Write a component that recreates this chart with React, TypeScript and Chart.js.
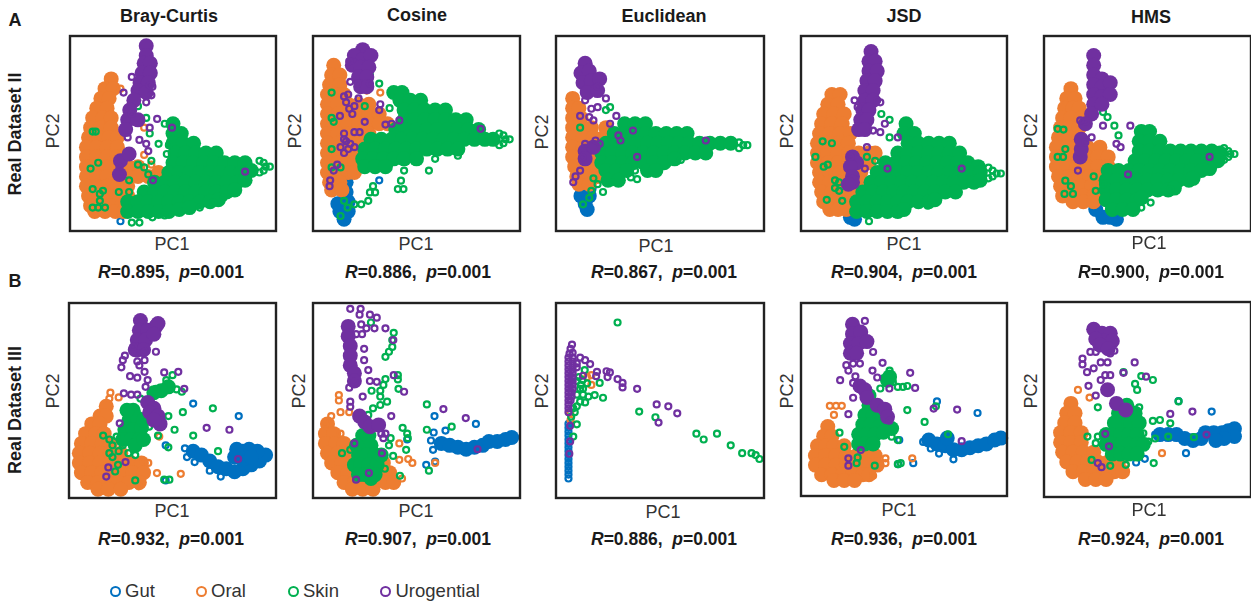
import React, { useEffect, useRef } from "react";
import { Chart, registerables } from "chart.js";

Chart.register(...registerables);

// PC1,PC2 score pairs (flat x,y lists). "dense" = heavily overplotted zones, "open" = individually visible samples.
const A1_GUT_DENSE: number[] = [];
const A1_GUT_OPEN = [24.5,5];
const A1_ORAL_DENSE = [20,78,17,73,21,73,15,68,19,68,13,63,18,63,11,58,16,58,20,58,10,53,15,53,20,53,9,48,14,48,19,48,23,48,8,43,13,43,18,43,23,43,8,38,13,38,18,38,23,38,8,33,13,33,18,33,23,33,28,33,33,33,8,28,13,28,18,28,23,28,28,28,33,28,38,28,43,30,8,23,13,23,18,23,23,23,28,23,9,18,14,18,19,18,24,18,28,18,10,13,15,13,20,13,25,13,12,10,17,10,22,10,26,10];
const A1_ORAL_OPEN = [24.5,73,36,53,36,39,39.5,34];
const A1_SKIN_DENSE = [50,55,50,50,54,50,50,45,55,45,60,45,51,40,56,40,61,40,66,40,71,40,50,35,55,35,60,35,65,35,70,35,75,35,80,35,85,35,48,30,53,30,58,30,63,30,68,30,73,30,78,30,83,30,88,31,41,25,46,25,51,25,56,25,61,25,66,25,71,25,76,25,81,25,85,26,36,20,41,20,46,20,51,20,56,20,61,20,66,20,71,20,76,20,80,21,28,15,33,15,38,15,43,15,48,15,53,15,58,15,63,15,68,15,72,16,28,10,33,10,38,10,43,10,48,10,53,11,58,12];
const A1_SKIN_OPEN = [11,51,12.5,51,10,32,13.7,35,11,21.5,16,20.6,14.5,19,14.5,15.5,11,12,13.7,12,17,12,23.7,20,28.7,20,33,64,37,58,46,55,38.7,50,43,44.7,48,44,47,39.5,39.5,36,33,34,36,32.6,28.7,26,38,29,30,4.3,33.7,4.3,40,7,46,8,63,12,69.5,14.6,74.5,17,97,33,95,33,94,35,94,31,92,36,92,30];
const A1_URO_DENSE = [37,95,37,90,36,86,39,86,35,81,39,81,34,76,38,76,33,72,37,71,31,67,29,62,28,57,33,57,27,52,24.5,36,28.7,39.5,24,29];
const A1_URO_OPEN = [40,74,30,60,37,44.7,33.7,46.7,38.7,53,42.3,57.5,49.5,53,85,30.4,40.3,26,37,66,26,71,30,79,39.5,69.6,38.7,74.7,28,48,24,33,38,41];

const A2_GUT_DENSE = [16,25,16,20,15,15,12,14,17,15,13,10,17,10,15,6];
const A2_GUT_OPEN = [32,26];
const A2_ORAL_DENSE = [10,85,9,80,13,80,8,75,13,75,7,70,12,70,15,70,7,65,12,65,17,65,22,65,27,65,7,60,12,60,17,60,22,60,27,60,32,60,7,55,12,55,17,55,22,55,27,55,32,55,36,55,7,50,12,50,17,50,22,50,27,50,7,45,12,45,17,45,22,45,7,40,12,40,17,40,22,40,27,40,7,35,12,35,17,35,20,35,7,30,12,30,17,30,20,30,8,25,13,25,9,21,14,21];
const A2_ORAL_OPEN = [26,72,32.5,71];
const A2_SKIN_DENSE = [39,71,43,71,42,67,47,67,52,67,44,62,49,62,54,62,59,62,64,62,44,57,49,57,54,57,59,57,64,57,69,57,74,57,40,52,45,52,50,52,55,52,60,52,65,52,70,52,75,52,80,52,28,47,33,47,38,47,43,47,48,47,53,47,58,47,63,47,68,47,73,47,78,47,83,47,87,47,25,42,30,42,35,42,40,42,45,42,50,42,55,42,60,42,65,42,70,42,24,37,29,37,34,37,39,37,44,37,50,37,25,33,30,33,35,33];
const A2_SKIN_OPEN = [9,71,9,58,10,56,9,42,9,32.6,13.3,32.6,27.5,80,32,75.6,25,64,37,63,44,31,56,31,59,37,70,38.6,42.5,25.8,41,21.5,43.7,21.5,29,23,27.5,19.8,30,19.8,26.7,15.5,23.3,13.7,20,13.7,16.7,12,13.3,7.7,15,15.5,95,47,93,47,92,49,92,45,90,50,90,44];
const A2_URO_DENSE = [24,93,20,90,24,88,28,90,19,85,23,84,27,84,22,79,26,79,23,74,26,74];
const A2_URO_OPEN = [15,69,17,70,22,68,17.5,62.7,20,64,32.5,65,32,62,13,59,25,56,35,54.6,38,55,41.7,56.7,20,50.7,15,50,22.5,50.7,16,46,13.3,43,18,44.7,15,40,20,43,11.7,34,10,31,8.3,26,8,23,81,52.4,17.5,87,18,76.5,21.7,75.6,27.5,75.6,16,66,19,60,15,47,17,42];

const A3_GUT_DENSE = [16,22,12,18,16,18,14,14,15,11];
const A3_GUT_OPEN = [30,29.5];
const A3_ORAL_DENSE = [8,68,8,63,11,63,8,58,12,58,8,53,12,53,17,53,24,53,8,48,13,48,18,48,23,48,28,48,8,43,13,43,18,43,23,43,28,43,33,43,8,38,13,38,18,38,23,38,9,33,14,33,19,33,24,33,10,28,15,28,20,28,11,24,16,24];
const A3_ORAL_OPEN: number[] = [];
const A3_SKIN_DENSE = [33,55,38,55,43,55,28,50,33,50,38,50,43,50,48,50,53,50,58,50,63,50,24,45,29,45,34,45,39,45,44,45,49,45,54,45,59,45,64,45,69,45,74,45,79,45,84,45,22,40,27,40,32,40,37,40,42,40,47,40,52,40,57,40,62,40,67,40,72,40,22,35,27,35,32,35,37,35,42,35,47,35,52,35,57,37,24,31,29,31,34,31,44,31,48,31,25,26,30,26];
const A3_SKIN_OPEN = [26,63.5,24,62,11.6,53,36,27.5,39,26.6,38,31,27,25,22.6,20,17,20.6,16,17,13,13.7,60,36.4,20,24,18,27,92,44,90,44,88,45.5,88,42.5];
const A3_URO_DENSE = [14,86,12,81,16,82,13,76,17,77,21,78,15,71,20,72,14,41,18,43,14,37];
const A3_URO_OPEN = [20,74,24,68,20,63.5,17,62.7,14,67,11.6,59,16,58.4,18,56.7,29,59,26,55,37,51.5,30,49,31,46.4,19,46.4,21,44.7,14,44.7,12.7,37.8,39,38,72,46.4,11.6,31,9.4,28,8.3,25];

const A4_GUT_DENSE = [24,7,26,6];
const A4_GUT_OPEN: number[] = [];
const A4_ORAL_DENSE = [15,70,19,70,13,65,18,65,11,60,16,60,21,60,10,55,15,55,20,55,9,50,14,50,19,50,24,50,8,45,13,45,18,45,23,45,8,40,13,40,18,40,23,40,28,40,33,40,36,40,8,35,13,35,18,35,23,35,28,35,33,35,9,30,14,30,19,30,24,30,29,30,9,25,14,25,19,25,24,25,29,25,10,20,15,20,20,20,25,20,30,20,11,15,16,15,21,15,26,15,14,11,18,11,22,11];
const A4_ORAL_OPEN: number[] = [];
const A4_SKIN_DENSE = [51,55,50,50,55,50,52,45,57,45,62,45,67,45,72,45,47,40,52,40,57,40,62,40,67,40,72,40,77,40,41,35,46,35,51,35,56,35,61,35,66,35,71,35,76,35,81,35,86,33,37,30,42,30,47,30,52,30,57,30,62,30,67,30,72,30,77,30,82,30,87,30,34,25,39,25,44,25,49,25,54,25,59,25,64,25,69,25,74,25,79,25,84,25,87,26,30,20,35,20,40,20,45,20,50,20,55,20,60,20,65,20,70,20,75,20,27,15,32,15,37,15,42,15,47,15,52,15,57,15,62,15,65,16,27,10,32,10,37,10,42,10,47,10,50,11];
const A4_SKIN_OPEN = [10.5,46,15,45,7,38,13,34,11,33,16.5,26,18.5,25,16.5,22,18.5,20.6,12.5,16,20,15.5,39,60,43,57,43,48,32,38,36,36,61.5,13,46,8.6,33,5,97,29.5,95,29.5,93,31,93,28,91,32.5,91,27];
const A4_URO_DENSE = [34,92,33,87,36,87,33,82,37,82,32,77,36,77,31,72,35,72,31,67,35,67,30,62,33,62,29,57,32,57,28,52,31,52,25,38,27,35,24,33,25,28,25,25,23,24];
const A4_URO_OPEN = [26,67,27.5,63.6,37,67,38.5,66,35,51.5,40.7,55,38.5,50.7,47,48,32,43,24,38,31,32,42,32,78,32];

const A5_GUT_DENSE = [28.5,7,35,6,25,11,32,7];
const A5_GUT_OPEN: number[] = [];
const A5_ORAL_DENSE = [13,73,11,68,15,68,10,63,14,63,17,63,9,58,13,58,18,58,8,53,12,53,17,53,7,48,12,48,17,48,6,43,11,43,16,43,21,43,27,43,6,38,11,38,16,38,21,38,26,38,31,38,6,33,11,33,16,33,21,33,26,33,31,33,7,28,12,28,17,28,22,28,27,28,8,23,13,23,18,23,23,23,27,23,9,18,14,18,19,18,24,18,28,18,14,15,19,15,24,15];
const A5_ORAL_OPEN = [25,20.6];
const A5_SKIN_DENSE = [47,51,51,51,46,46,51,46,56,46,46,41,51,41,56,41,61,41,66,41,71,41,76,41,81,41,85,40,44,36,49,36,54,36,59,36,64,36,69,36,74,36,79,36,84,36,31,31,36,31,41,31,46,31,51,31,56,31,61,31,66,31,71,31,76,31,80,32,30,26,35,26,40,26,45,26,50,26,55,26,60,26,65,26,70,26,72,27,30,21,35,21,40,21,45,21,50,21,55,21,60,21,63,22,30,16,35,16,40,16,45,16,47,17,33,11,38,11,43,11];
const A5_SKIN_OPEN = [6.6,52.4,9.4,52,10.3,42,6.6,38,9.2,38,10.3,25.8,13,23,9.9,19,14,19,28.5,61,30.7,58.4,34,54,36,49,24,28,28.5,24,25,20.6,47,12,51.5,14.6,61,21.5,92,39.5,90,39.5,89,41,89,38,87,42.5,87,36.5];
const A5_URO_DENSE = [24,90,24,85,24,80,28,78,24,75,28,74,32,76,24,70,28,69,32,70,24,65,28,65,23,60,20,55,17.5,38,18,42,18,47];
const A5_URO_OPEN = [28.5,54,41.7,54,20,56,17.5,56.7,35,44.7,37,43,23,48,40.6,29,80,38,20,45.5,16.4,31];

const B1_GUT_DENSE = [60,24,64,22,68,19,72,16,76,15,80,13.5,84,15,88,17,92,19,95,22,91,24,87,25,84,24,81,25,80,21,84,20,88,21];
const B1_GUT_OPEN = [60,48.4,82,42,46.7,27,57,21,60.7,18.4,68,14,73.3,11,46.7,9,56,25.5];
const B1_ORAL_DENSE = [18,47,15,42,18,42,11,38,15,38,8,33,13,33,17,33,6,28,11,28,16,28,20,28,5,23,10,23,15,23,20,23,25,23,5,18,10,18,15,18,20,18,25,18,30,18,35,18,6,13,11,13,16,13,21,13,26,13,31,13,36,13,9,8,14,8,19,8,24,8,29,8,34,8,14,4.5,19,4.5,25,4.5];
const B1_ORAL_OPEN = [20,54,19.5,51,24,51.6,36,18.7,38.3,18,42.5,12.8,54,12.4,33.7,6,43.6,31.5];
const B1_SKIN_DENSE = [31,45,29,40,33,41,27,35,31,35,35,36,26,30,30,30,34,30,32,27,36,40,28,45,36,30,48,57,44.5,55,41,54];
const B1_SKIN_OPEN = [16.5,32,19.5,30,23,31.5,19.5,23,21,21,23.7,17,22.3,13.6,28.7,23,32,22,32,9,43,32,48,42,51,35,55,44,60,32,69.5,46,72,24,48,26,48.5,9.4,46,9.4,50,63,47,60.5,42,56,52,55.7,54.5,54.5,34.5,51,38.7,36.6,21,27,24,24,26,27];
const B1_URO_DENSE = [34.5,91,34,86,38,86,42,88,43,89.5,33,81,37,81,41,84,32,76,36,76,38,49,41,46,39,44,43,42,44,38,41,40];
const B1_URO_OPEN = [42,75,31,77.5,33,74,36.5,75,27,73,26,70.7,25.3,67,33,70,36.5,70.7,34,68,36.5,64.7,29.5,62.5,33,61.7,46,64.4,52.8,64.7,55.7,56,26.5,53.7,30,53,33,53,38,60.5,37,57,24.5,38.3,66.5,36,77.5,35,81.7,20,27.3,18.4,19,15.7,18,11];

const B2_GUT_DENSE = [62,28,66,27,70,26,74,25,78,26,82,27,85,29,89,29,93,30,96,31];
const B2_GUT_OPEN = [58.7,42,78.7,38,64,34.6,58.3,33.6,57,29.5,58,24.7,45.5,30,54.7,17,59,18.7];
const B2_ORAL_DENSE = [7,38,6,33,10,33,6,28,11,28,15,28,7,23,12,23,17,23,9,18,14,18,19,18,24,18,29,18,34,18,12,13,17,13,22,13,27,13,32,13,37,13,15,8,20,8,25,8,30,8,35,8,39,8,19,4.5,24,4.5,29,4.5];
const B2_ORAL_OPEN = [12.5,52.8,12.5,50,13.3,44,17.5,44,8.8,42,5.8,38,41.7,28,41.7,19.6,46,20,48,18,43,10,59,18,13.3,33];
const B2_SKIN_DENSE = [27,32,24,32,24,27,28,27,21,27,22,22,26,22,30,22,20,17,23,17,27,17,31,17,33,22,22,12,25,12,28,10,30,12];
const B2_SKIN_OPEN = [28,90,39,84.7,38.3,81,38.3,77.5,36.7,75,35,72.4,41,63,41,60.8,35,61,34,58,32.5,55,28.3,55,32.5,52,41.3,56,35.8,49.4,32.5,47.7,29,46,26.7,42.6,43.3,36,45.5,33,37.5,30.7,36.7,27,45,24.7,38.7,21.6,14,23,18,24.7,34.7,15,42,11.4,55,48,55,35,67,36.6,56,14,45.8,30.7];
const B2_URO_DENSE = [17,88,17,83,18,78,18,73,18,68,20,64,20,60,22.5,42,25,39,27.5,36.6,31.7,37.5];
const B2_URO_OPEN = [18,97,23,97,22.5,94,27.5,94,30.8,92.5,23.3,89,25.8,87,29.7,87,35,87,23.7,84,20.8,84,38.8,81,24.7,76.5,24.7,70.7,26.7,65.6,39,63,17.5,56.6,20,59.6,27.5,60,30.8,59.6,44,54.5,24,52,18,49.4,18,46.8,37.8,42,33,33,35,33,34,30.7,20,28,33.3,23,27,12.8,20.8,9.4,63,45.6,73.8,41,79.5,25];

const B3_GUT_DENSE: number[] = [];
const B3_GUT_OPEN = [6,10,6,12,6,14,6,16,6,18,6,20,6,22,6,24,6,26,6,28,6,30,6,32,6,34,6,36,6,38];
const B3_ORAL_DENSE: number[] = [];
const B3_ORAL_OPEN = [17,63,15,62,17,58,6.8,43.4,7,40];
const B3_SKIN_DENSE: number[] = [];
const B3_SKIN_OPEN = [29.6,90,13.8,65.6,12.7,60.5,15,58.8,11.6,56,15.6,52,18.6,52.8,22.6,51.4,11.6,49.4,40,44.3,47.8,41.4,67.5,33,71,30,77.4,33,84,27,89.5,23,94,23,96,22,97.8,20,21,59,8.3,46,7.3,41.7,10,37.8,8.3,31.5,11,62,13,56,10,53,14,49,12,58,10,60,13,53,10,47,9,44];
const B3_URO_DENSE: number[] = [];
const B3_URO_OPEN = [7.7,78.7,7,76.5,8,74.5,6.5,74,6,72,8,72,6,70,8,70,10,69,6,68,8,68,10,67,6,66,8,66,6,64,8,64,6,62,8,62,6,60,8,60,6,58,8,58,6,56,8,56,6,54,7.5,54,6,52,7.5,52,6,50,7,50,6,48,6,46,6,44,11.6,72,14,70.7,16.4,68.7,19.7,64.7,19.3,62.5,24.3,65,25.9,64.4,24.8,62,29.6,61,32,59,32,56.7,39,56,48.4,48,54,47,58.3,43.4,49.3,38.7,13,62.7,6.8,37,6.8,29,6.4,22.7];

const B4_GUT_DENSE = [62,29,66,27,70,26,74,24,78,24,82,25,86,26,90,27,94,29,97,30,71,30];
const B4_GUT_OPEN = [66,49,85.7,43,59.3,28,63,24.6,67,22,74,19,47.7,29,47.2,16.5,54.5,17];
const B4_ORAL_DENSE = [13,36,11,31,15,31,8,26,12,26,16,26,21,26,7,21,12,21,17,21,22,21,27,21,32,21,36,21,7,16,12,16,17,16,22,16,27,16,32,16,37,16,10,11,15,11,20,11,25,11,30,11,33,11,16,8,21,8,26,8];
const B4_ORAL_OPEN = [14,46.7,17,46.7,19.8,46.7,16,42,41,19.5,41,17,35,10.5,54,19.5];
const B4_SKIN_DENSE = [33,47,33,52,31,42,35,42,38,40,30,37,34,37,38,36,28,32,32,32,36,32,40,33,44,35,28,27,31,27,35,27,37,45,43,61.7,42,60];
const B4_SKIN_OPEN = [49.5,56.5,51.6,57,47,56.5,43,65,40,61,44.6,59,38.5,55.7,51.6,44.5,60,38.4,65.5,46.5,71.4,32,43,34,44,30.7,18.7,32.8,21,25.5,27.5,20,27,17,35.8,15.7,47,16.5,48.4,17,47,29];
const B4_URO_DENSE = [25,89,25,84,29,85,24,79,28,79,32,80,24,74,27,74,28.6,57,31,55,32,51,37,47,40.7,45,42,41];
const B4_URO_OPEN = [31,90.7,35,74.6,22,67.8,25.3,68.6,28.6,68.6,23,65,39.6,69,34.7,65,37,61.4,53,63.8,19,60,26.4,62,25.3,58.6,42.9,55.7,55.4,56,25.3,50.9,23,42.4,64.4,45.3,75.8,44.8,78,28.4,29,23.8,23,19.5,23,15.7,42.9,39];

const B5_GUT_DENSE = [56,32,60,32,64,32,68,30,72,29,76,30,78,33,82,33,86,33,89,34,92,35,92,31,87,30,83,29];
const B5_GUT_OPEN = [65,49.2,81,43.8,53.7,32,68.6,22.5,44.5,17.7,48.7,19.6];
const B5_ORAL_DENSE = [13,48,11,43,15,43,10,38,15,38,8,33,13,33,18,33,8,28,13,28,18,28,9,23,14,23,19,23,24,23,11,18,16,18,21,18,26,18,31,18,36,18,14,13,19,13,24,13,29,13,34,13,38,13,20,9,25,9,30,9];
const B5_ORAL_OPEN = [16.4,54.9,22,51,57,22.5,45,22.5,39.5,16.5];
const B5_SKIN_DENSE = [40,43,36,43,44,43,38,38,34,38,42,38,46,38,30,32,33,32,37,32,41,32,45,32,30,27,33,27,37,27,41,27,45,27,48,27,33,22,37,22,41,22,45,22,40,47];
const B5_SKIN_OPEN = [44,58,47,62,52.6,60,38.4,64,45,54.9,26,46,52.6,39,56,39.5,61,37.8,65,49,50.4,28.4,53.7,30,60,31,72.4,30.7,53,17.4,21,31,26,31,25,27.6,23,19,32,16,39.5,16.5,48,32.7,46,46];
const B5_URO_DENSE = [24,86,28,84,32,84,29,80,33,80,25,81,27,78,31,76,30.7,55,35,48,39.5,44.6];
const B5_URO_OPEN = [34,75,32,73.6,22.4,74.4,25,74.4,18.6,71,18.6,68,20.8,64,24,66,27.4,69,30.7,69,43.8,69,38.4,63.7,49.3,61.7,29.6,62.5,32,62.5,27.4,60,21.5,57,25,52,71.7,43.8,61,42.6,78.5,32,29.6,32.4,31.4,26,26,17.4,27.8,15.3];

const METRICS = ["Bray-Curtis", "Cosine", "Euclidean", "JSD", "HMS"];
const R_ROW_A = ["0.895", "0.886", "0.867", "0.904", "0.900"];
const R_ROW_B = ["0.932", "0.907", "0.886", "0.936", "0.924"];
const P_VALUE = "0.001";
const ROW_LABELS = ["Real Dataset II", "Real Dataset III"];
const LEGEND = ["Gut", "Oral", "Skin", "Urogential"];
const COLORS = ["#0070C0", "#ED7D31", "#00B050", "#7030A0"];

const SERIES = [
  [A1_GUT_DENSE, A1_GUT_OPEN, A1_ORAL_DENSE, A1_ORAL_OPEN, A1_SKIN_DENSE, A1_SKIN_OPEN, A1_URO_DENSE, A1_URO_OPEN],
  [A2_GUT_DENSE, A2_GUT_OPEN, A2_ORAL_DENSE, A2_ORAL_OPEN, A2_SKIN_DENSE, A2_SKIN_OPEN, A2_URO_DENSE, A2_URO_OPEN],
  [A3_GUT_DENSE, A3_GUT_OPEN, A3_ORAL_DENSE, A3_ORAL_OPEN, A3_SKIN_DENSE, A3_SKIN_OPEN, A3_URO_DENSE, A3_URO_OPEN],
  [A4_GUT_DENSE, A4_GUT_OPEN, A4_ORAL_DENSE, A4_ORAL_OPEN, A4_SKIN_DENSE, A4_SKIN_OPEN, A4_URO_DENSE, A4_URO_OPEN],
  [A5_GUT_DENSE, A5_GUT_OPEN, A5_ORAL_DENSE, A5_ORAL_OPEN, A5_SKIN_DENSE, A5_SKIN_OPEN, A5_URO_DENSE, A5_URO_OPEN],
  [B1_GUT_DENSE, B1_GUT_OPEN, B1_ORAL_DENSE, B1_ORAL_OPEN, B1_SKIN_DENSE, B1_SKIN_OPEN, B1_URO_DENSE, B1_URO_OPEN],
  [B2_GUT_DENSE, B2_GUT_OPEN, B2_ORAL_DENSE, B2_ORAL_OPEN, B2_SKIN_DENSE, B2_SKIN_OPEN, B2_URO_DENSE, B2_URO_OPEN],
  [B3_GUT_DENSE, B3_GUT_OPEN, B3_ORAL_DENSE, B3_ORAL_OPEN, B3_SKIN_DENSE, B3_SKIN_OPEN, B3_URO_DENSE, B3_URO_OPEN],
  [B4_GUT_DENSE, B4_GUT_OPEN, B4_ORAL_DENSE, B4_ORAL_OPEN, B4_SKIN_DENSE, B4_SKIN_OPEN, B4_URO_DENSE, B4_URO_OPEN],
  [B5_GUT_DENSE, B5_GUT_OPEN, B5_ORAL_DENSE, B5_ORAL_OPEN, B5_SKIN_DENSE, B5_SKIN_OPEN, B5_URO_DENSE, B5_URO_OPEN],
];

// layout only
const FRAMES = [
  [70, 36, 206, 195], [313, 36, 207, 195], [556, 36, 208, 195], [801, 36, 206, 195], [1044, 36, 207, 195],
  [69, 303, 207, 195], [313, 303, 207, 195], [556, 303, 208, 195], [801, 303, 206, 193], [1044, 302, 207, 195],
];
const PC1_POS = [[172,244],[416,244],[656,246],[904,244],[1149,243],[172,511],[416,511],[663,512],[899,510],[1149,510]];
const PC2_POS = [[53,131],[295,131],[542,132],[787,131],[1031,131],[53,391],[299,391],[542,391],[787,391],[1031,391]];
const TITLE_POS = [[169,16],[417,15],[664,16],[904,16],[1151,17]];
const R_X = [171,418,664,904,1151];
const LEGEND_POS = [[115.5,125],[201.7,211],[293,303],[385.5,395.5]];
const PAD = 3;

const toPoints = (flat: number[]) => {
  const out: { x: number; y: number }[] = [];
  for (let i = 0; i < flat.length; i += 2) out.push({ x: flat[i], y: flat[i + 1] });
  return out;
};

const framePlugin = {
  id: "frame",
  afterDatasetsDraw(chart: any) {
    const { ctx, chartArea: a } = chart;
    ctx.save();
    ctx.strokeStyle = "#222222";
    ctx.lineWidth = 2.4;
    ctx.strokeRect(a.left, a.top, a.right - a.left, a.bottom - a.top);
    ctx.restore();
  },
};

function Panel({ index }: { index: number }) {
  const ref = useRef<HTMLCanvasElement>(null);
  const [l, t, w, h] = FRAMES[index];
  useEffect(() => {
    const lists = SERIES[index];
    const datasets: any[] = [];
    LEGEND.forEach((name, c) => {
      datasets.push({
        label: name + " dense", data: toPoints(lists[c * 2]), order: 8 - c * 2,
        pointRadius: 7.5, pointBorderWidth: 0, pointBackgroundColor: COLORS[c], clip: false,
      });
      datasets.push({
        label: name, data: toPoints(lists[c * 2 + 1]), order: 7 - c * 2,
        pointRadius: 3, pointBorderWidth: 2.2, pointBorderColor: COLORS[c],
        pointBackgroundColor: "rgba(255,255,255,0)", clip: false,
      });
    });
    const chart = new Chart(ref.current as HTMLCanvasElement, {
      type: "scatter",
      data: { datasets },
      options: {
        responsive: false,
        animation: false,
        layout: { padding: PAD, autoPadding: false },
        plugins: { legend: { display: false }, tooltip: { enabled: false } },
        scales: {
          x: { type: "linear", min: 0, max: 100, display: false },
          y: { type: "linear", min: 0, max: 100, display: false },
        },
      },
      plugins: [framePlugin],
    } as any);
    return () => chart.destroy();
  }, [index]);
  return (
    <canvas
      ref={ref}
      width={w + PAD * 2}
      height={h + PAD * 2}
      style={{ position: "absolute", left: l - PAD, top: t - PAD, width: w + PAD * 2, height: h + PAD * 2, display: "block" }}
    />
  );
}

const FONT = '"Liberation Sans", Arial, sans-serif';

function Label({ x, y, size, bold, rotate, children }: any) {
  return (
    <div
      style={{
        position: "absolute", left: x, top: y, whiteSpace: "pre", fontFamily: FONT, fontSize: size,
        fontWeight: bold ? 700 : 400, color: bold ? "#1a1a1a" : "#333333", lineHeight: 1,
        transform: `translate(-50%,-50%)${rotate ? " rotate(-90deg)" : ""}`,
      }}
    >
      {children}
    </div>
  );
}

function RText({ x, y, r }: { x: number; y: number; r: string }) {
  return (
    <Label x={x} y={y} size={17.5} bold>
      <i>R</i>={r},{"  "}<i>p</i>={P_VALUE}
    </Label>
  );
}

export default function App() {
  return (
    <div style={{ position: "absolute", left: 0, top: 0, width: 1251, height: 605, overflow: "hidden", background: "#fff", filter: "blur(0.4px)" }}>
      {FRAMES.map((_, i) => <Panel key={i} index={i} />)}
      {METRICS.map((m, i) => <Label key={m} x={TITLE_POS[i][0]} y={TITLE_POS[i][1]} size={18} bold>{m}</Label>)}
      {PC1_POS.map((p, i) => <Label key={"x" + i} x={p[0]} y={p[1]} size={18}>PC1</Label>)}
      {PC2_POS.map((p, i) => <Label key={"y" + i} x={p[0]} y={p[1]} size={18} rotate>PC2</Label>)}
      {R_ROW_A.map((r, i) => <RText key={"ra" + i} x={R_X[i]} y={273} r={r} />)}
      {R_ROW_B.map((r, i) => <RText key={"rb" + i} x={R_X[i]} y={540} r={r} />)}
      <Label x={15} y={20} size={18} bold>A</Label>
      <Label x={15} y={281} size={18} bold>B</Label>
      <Label x={15} y={134} size={18} bold rotate>{ROW_LABELS[0]}</Label>
      <Label x={15} y={410} size={18} bold rotate>{ROW_LABELS[1]}</Label>
      {LEGEND.map((name, i) => (
        <React.Fragment key={name}>
          <div style={{
            position: "absolute", left: LEGEND_POS[i][0] - 5.5, top: 586, width: 7, height: 7,
            border: `2px solid ${COLORS[i]}`, borderRadius: "50%",
          }} />
          <div style={{
            position: "absolute", left: LEGEND_POS[i][1], top: 582, fontFamily: FONT, fontSize: 18.5,
            lineHeight: 1, color: "#333333",
          }}>{name}</div>
        </React.Fragment>
      ))}
    </div>
  );
}
